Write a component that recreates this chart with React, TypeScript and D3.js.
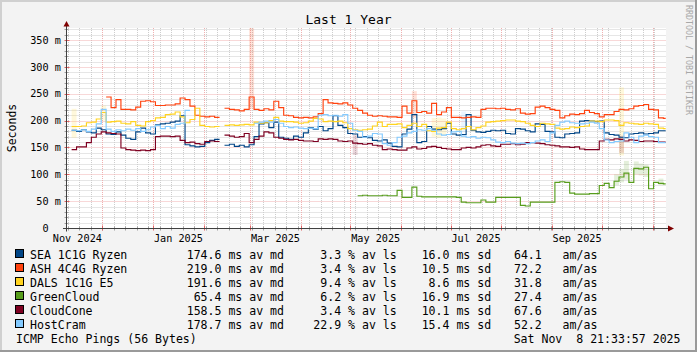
import * as d3 from "d3";

const hosts = ["SEA 1C1G Ryzen", "ASH 4C4G Ryzen", "DALS 1C1G E5", "GreenCloud", "CloudCone", "HostCram"];
const colors = ["#004586", "#ff420e", "#ffd320", "#579d1c", "#7e0021", "#83caff"];
const avMedian = [174.6, 219.0, 191.6, 65.4, 158.5, 178.7];
const avLoss = [3.3, 3.4, 9.4, 6.2, 3.4, 22.9];
const avSd = [16.0, 10.5, 8.6, 16.9, 10.1, 15.4];
const amAs = [64.1, 72.2, 31.8, 27.4, 67.6, 52.2];

// one sample every 3 days from Nov 12 2024 (ms, null = no data)
const sea = [
  183, 181, 184, 180, 178, 187, 184, 176, 175, 180,
  174, 168, 166, 180, 187, 178, 176, 193, 195, 196,
  198, 200, 210, 156, 154, 152, 153, 160, 164, 166,
  null, 155, 157, 153, 155, 152, 156, 171, 195, 197,
  188, 198, 170, 168, 166, 172, 170, 178, 188, 185,
  190, 182, 186, 210, 192, 188, 177, 176, 170, 171,
  169, 164, 163, 165, 159, 153, 152, 176, 185, 212,
  160, 162, 190, 185, 184, 186, 196, 176, 174, 175,
  212, 183, 180, 179, 181, 183, 182, 183, 177, 176,
  186, 185, 182, 180, 195, 194, 181, 180, 170, 169,
  176, 177, 178, 200, 201, 200, 199, 200, 178, 175,
  174, 170, 169, 176, 177, 178, 176, 177, 178, 182, 182,
];
const ash = [
  null, null, null, null, null, null, null, 245, 225, 240,
  222, 222, 221, 226, 237, 238, 236, 229, 229, 230,
  230, 232, 243, 240, 228, 211, 209, 208, 209, 207,
  null, 224, 222, 221, 219, 222, 245, 222, 220, 223,
  221, 237, 225, 211, 210, 207, 206, 207, 206, 208,
  214, 240, 234, 233, 232, 234, 230, 224, 220, 215,
  211, 209, 210, 209, 208, 208, 207, 228, 215, 238,
  216, 218, 215, 233, 212, 217, 225, 207, 207, 206,
  207, 208, 207, 222, 224, 224, 223, 224, 222, 221,
  223, 215, 213, 214, 226, 228, 225, 222, 220, 206,
  210, 213, 212, 214, 220, 216, 214, 208, 212, 212,
  218, 222, 221, 223, 228, 229, 231, 222, 221, 206, 205,
];
const dals = [
  190, 190, 191, 197, 198, 204, 216, 198, 199, 200,
  196, 195, 199, 192, 191, 199, 201, 206, 207, 212,
  213, 217, 208, 197, 203, 224, 192, 190, 189, 190,
  null, 192, 193, 192, 193, 194, 193, 198, 196, 197,
  201, 207, 200, 199, 199, 198, 196, 197, 200, 205,
  204, 199, 200, 199, 200, 197, 186, 184, 183, 184,
  185, 191, 198, 190, 194, 194, 195, 188, 192, 196,
  190, 194, 182, 181, 187, 188, 198, 186, 184, 186,
  190, 184, 188, 191, 198, 199, 200, 201, 202, 202,
  200, 199, 196, 192, 190, 196, 195, 194, 187, 185,
  186, 189, 188, 190, 191, 200, 200, 199, 202, 202,
  201, 192, 197, 196, 195, 194, 196, 195, 194, 187, 186,
];
const greenCloud = [
  null, null, null, null, null, null, null, null, null, null,
  null, null, null, null, null, null, null, null, null, null,
  null, null, null, null, null, null, null, null, null, null,
  null, null, null, null, null, null, null, null, null, null,
  null, null, null, null, null, null, null, null, null, null,
  null, null, null, null, null, null, null, null, 61, 62,
  61, 61, 61, 62, 61, 61, 71, 58, 58, 77,
  60, 59, 59, 59, 59, 59, 59, 59, 58, 49,
  48, 48, 48, 53, 49, 49, 58, 58, 58, 58,
  58, 43, 42, 49, 49, 49, 49, 49, 86, 87,
  86, 66, 64, 64, 64, 65, 65, 80, 84, 76,
  88, 96, 103, 86, 112, 111, 114, 74, 86, 84, 83,
];
const cloudCone = [
  147, 152, 152, 160, 170, 176, 180, 178, 177, 176,
  150, 147, 146, 145, 146, 145, 147, 171, 172, 172,
  171, 172, 164, 160, 161, 158, 157, 162, 163, 162,
  null, 174, 172, 170, 171, 177, 160, 166, 172, 180,
  178, 170, 168, 166, 165, 166, 164, 163, 163, 162,
  167, 166, 167, 166, 163, 162, 163, 159, 158, 157,
  158, 155, 154, 147, 148, 147, 146, 146, 150, 152,
  148, 149, 152, 153, 151, 149, 148, 147, 147, 150,
  151, 150, 152, 155, 156, 154, 153, 157, 157, 158,
  156, 157, 160, 160, 159, 158, 156, 155, 154, 152,
  152, 151, 152, 148, 147, 147, 147, 163, 166, 165,
  167, 166, 163, 165, 164, 162, 163, 163, 162, 161, 161,
];
const hostCram = [
  183, 182, 184, 181, 185, 195, 222, 185, 181, 184,
  182, 185, 183, 186, 181, 184, 189, 192, 186, 190,
  187, 194, 196, 220, null, null, null, null, null, null,
  null, null, null, null, null, null, null, 196, 198, 200,
  198, 203, 196, 190, 188, 189, 187, 186, 187, 186,
  211, 212, 210, 211, 209, 212, 196, 183, 181, 170,
  172, 177, 176, 158, 155, 160, 170, 172, 178, 181,
  184, 183, 186, 183, 176, 174, 175, 180, 181, 172,
  170, 171, 168, 170, 169, 165, 161, 160, 162, 159,
  158, 159, 158, 160, 163, 165, 162, 178, 192, 198,
  200, 197, 196, 195, 196, 198, 196, 186, 165, 160,
  162, 163, 178, 170, 160, 172, 174, 171, 170, 160, 160,
];
const series = [sea, ash, dals, greenCloud, cloudCone, hostCram];

// smoke (spread) bands: [host, sample, low, high]
const smoke: [number, number, number, number][] = [
  [1, 36, 222, 372], [1, 69, 205, 255], [2, 0, 168, 222], [2, 6, 200, 228],
  [2, 73, 170, 205], [2, 74, 168, 206], [2, 75, 172, 204], [2, 111, 135, 262],
  [4, 57, 136, 173], [4, 111, 140, 172], [5, 79, 178, 217],
  [3, 110, 80, 100], [3, 111, 85, 110], [3, 112, 90, 125], [3, 114, 100, 124],
  [3, 115, 98, 120], [3, 116, 95, 118], [3, 119, 80, 92],
];

const monthLabels = ["Nov 2024", "Jan 2025", "Mar 2025", "May 2025", "Jul 2025", "Sep 2025"];
const yTicks = [0, 50, 100, 150, 200, 250, 300, 350];

const FONT = "DejaVu Sans Mono";
const minorGrid = "#cdcdcd";
const majorGrid = "#f0b0b0";

export default function App() {
  const W = 697;
  const H = 352;
  const t0 = new Date(Date.UTC(2024, 10, 8, 21, 33, 57));
  const t1 = new Date(Date.UTC(2025, 10, 8, 21, 33, 57));
  const firstSample = new Date(Date.UTC(2024, 10, 12, 12));
  const x = d3.scaleUtc().domain([t0, t1]).range([65.7, 665.7]);
  const y = d3.scaleLinear().domain([0, 372.5]).range([228, 28]);
  const snap = (v: number) => Math.round(v) + 0.5;
  const times = sea.map((_, i) => d3.utcHour.offset(firstSample, i * 72));
  const timeAt = (i: number) => (i < times.length ? times[i] : t1);

  const line = d3
    .line<{ t: Date; v: number | null }>()
    .defined((d) => d.v != null)
    .x((d) => x(d.t))
    .y((d) => y(d.v as number) + 0.5)
    .curve(d3.curveStepAfter);

  const paths = series.map((vals) => {
    const pts: { t: Date; v: number | null }[] = [];
    vals.forEach((v, i) => {
      pts.push({ t: times[i], v });
      if (v != null && (i === vals.length - 1 || vals[i + 1] == null)) pts.push({ t: timeAt(i + 1), v });
    });
    return line(pts) || "";
  });

  const weeks = d3.utcSunday.range(t0, t1);
  const months = d3.utcMonth.range(t0, t1);
  const minorY = d3.range(10, 372, 10).filter((v) => v % 50 !== 0);
  const majorY = yTicks.filter((v) => v > 0);
  const parseMonth = d3.utcParse("%b %Y");
  const labelPos = monthLabels.map((s) => {
    const m = parseMonth(s) as Date;
    return (x(m) + x(d3.utcMonth.offset(m, 1))) / 2;
  });
  const fmt = d3.format("5.1f");
  const x0 = 66.5;
  const xEnd = 666;
  const yTop = 28;
  const yBase = snap(y(0));

  return (
    <svg width={W} height={H} style={{ position: "fixed", left: 0, top: 0, display: "block" }} fontFamily={FONT}>
      <rect x={0} y={0} width={W} height={H} fill="#f3f3f3" />
      <rect x={0} y={0} width={W} height={2} fill="#d0d0d0" />
      <rect x={0} y={0} width={2} height={H} fill="#d0d0d0" />
      <rect x={0} y={H - 2} width={W} height={2} fill="#9a9a9a" />
      <rect x={W - 2} y={0} width={2} height={H} fill="#9a9a9a" />
      <rect x={x0} y={yTop} width={xEnd - x0} height={yBase - yTop} fill="#ffffff" />

      {/* grid */}
      <g strokeDasharray="1,1" strokeWidth={1}>
        {minorY.map((v) => (
          <line key={"my" + v} x1={x0} x2={xEnd} y1={snap(y(v))} y2={snap(y(v))} stroke={minorGrid} />
        ))}
        {weeks.map((d) => (
          <line key={"w" + +d} x1={snap(x(d))} x2={snap(x(d))} y1={yTop} y2={yBase} stroke={minorGrid} />
        ))}
        {majorY.map((v) => (
          <line key={"My" + v} x1={x0} x2={xEnd} y1={snap(y(v))} y2={snap(y(v))} stroke={majorGrid} />
        ))}
        {months.map((d) => (
          <line key={"m" + +d} x1={snap(x(d))} x2={snap(x(d))} y1={yTop} y2={yBase} stroke={majorGrid} />
        ))}
      </g>

      {/* smoke */}
      {smoke.map(([h, k, lo, hi], i) => (
        <rect
          key={"s" + i}
          x={x(times[k])}
          y={y(hi)}
          width={x(timeAt(k + 1)) - x(times[k])}
          height={y(lo) - y(hi)}
          fill={colors[h]}
          opacity={0.16}
        />
      ))}

      {/* data */}
      {paths.map((d, i) => (
        <path key={"p" + i} d={d} fill="none" stroke={colors[i]} strokeWidth={1.15} />
      ))}

      {/* ticks */}
      {weeks.map((d) => (
        <line key={"tw" + +d} x1={snap(x(d))} x2={snap(x(d))} y1={yBase - 2} y2={yBase + 2} stroke="#a0a0a0" />
      ))}
      {months.map((d) => (
        <line key={"tm" + +d} x1={snap(x(d))} x2={snap(x(d))} y1={yBase - 3} y2={yBase + 2} stroke="#e06060" />
      ))}
      {minorY.map((v) => (
        <line key={"ty" + v} x1={x0 - 2} x2={x0 + 2} y1={snap(y(v))} y2={snap(y(v))} stroke="#a0a0a0" />
      ))}
      {majorY.map((v) => (
        <line key={"tY" + v} x1={x0 - 2} x2={x0 + 3} y1={snap(y(v))} y2={snap(y(v))} stroke="#e06060" />
      ))}

      {/* axes */}
      <line x1={63} x2={669} y1={yBase} y2={yBase} stroke="#404040" />
      <line x1={x0} x2={x0} y1={yBase + 3} y2={25} stroke="#404040" />
      <path d={`M${x0 - 3},26.5L${x0 + 3},26.5L${x0},21Z`} fill="#7f0000" />
      <path d={`M668,${yBase - 3}L668,${yBase + 3}L674,${yBase}Z`} fill="#7f0000" />

      {/* axis labels */}
      <g fontSize={10.2} fill="#000">
        {yTicks.map((v) => (
          <text key={"yl" + v} x={60.8} y={y(v) + 3.7} textAnchor="end" xmlSpace="preserve" style={{ whiteSpace: "pre" }}>
            {v === 0 ? "0  " : `${v} m`}
          </text>
        ))}
        {monthLabels.map((s, i) => (
          <text key={"xl" + s} x={labelPos[i]} y={241.5} textAnchor="middle">
            {s}
          </text>
        ))}
      </g>

      <text x={348.5} y={23.5} textAnchor="middle" fontSize={13}>
        Last 1 Year
      </text>
      <text transform="translate(15.5,128) rotate(-90)" textAnchor="middle" fontSize={11.5}>
        Seconds
      </text>
      <text transform="translate(685.5,5) rotate(90)" fontSize={8.3} fill="#a8a8a8">
        RRDTOOL / TOBI OETIKER
      </text>

      {/* legend */}
      <g fontSize={11.55} fill="#000" style={{ whiteSpace: "pre" }}>
        {hosts.map((h, i) => {
          const yb = 258.5 + 14 * i;
          return (
            <g key={h}>
              <rect x={15.5} y={yb - 9} width={8} height={8} fill={colors[i]} stroke="#000" />
              <text x={30} y={yb}>{h}</text>
              <text x={186.7} y={yb} xmlSpace="preserve">{`${fmt(avMedian[i])} ms av md`}</text>
              <text x={306.4} y={yb} xmlSpace="preserve">{`${fmt(avLoss[i])} % av ls`}</text>
              <text x={414.7} y={yb} xmlSpace="preserve">{`${fmt(avSd[i])} ms sd`}</text>
              <text x={507} y={yb} xmlSpace="preserve">{`${fmt(amAs[i])}   am/as`}</text>
            </g>
          );
        })}
        <text x={16} y={342.5}>ICMP Echo Pings (56 Bytes)</text>
        <text x={680.5} y={342.5} textAnchor="end" xmlSpace="preserve">
          Sat Nov  8 21:33:57 2025
        </text>
      </g>
    </svg>
  );
}
